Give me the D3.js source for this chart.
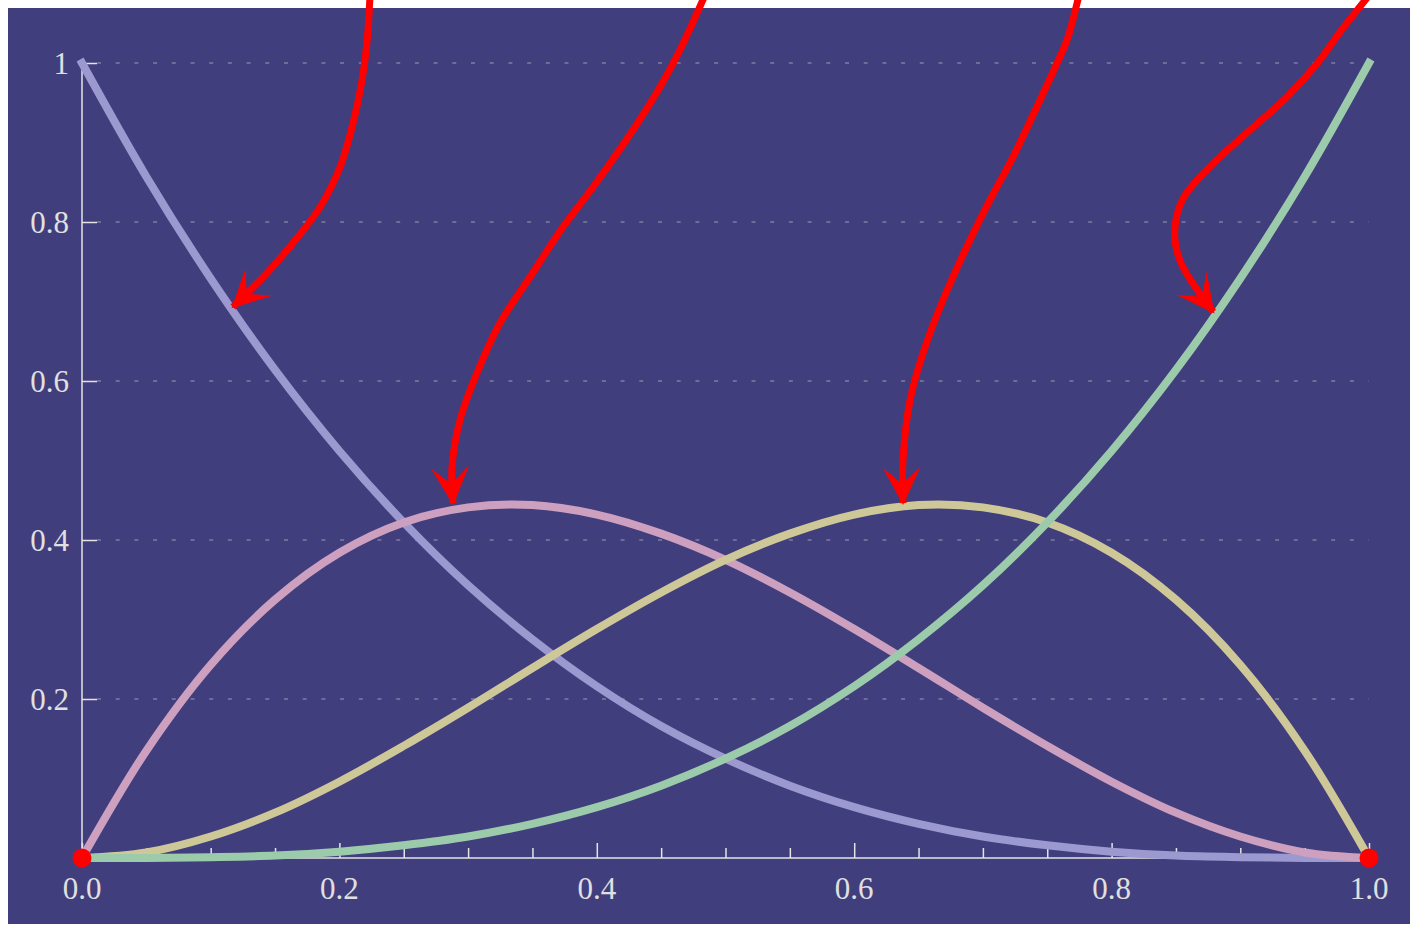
<!DOCTYPE html>
<html><head><meta charset="utf-8">
<script src="https://cdn.jsdelivr.net/npm/d3@7"></script>
<style>html,body{margin:0;padding:0;background:#fff;}svg{display:block;}</style>
</head><body>
<script>
// ---- data ----
const tValues = [0,0.05,0.1,0.15,0.2,0.25,0.3,0.35,0.4,0.45,0.5,0.55,0.6,0.65,0.7,0.75,0.8,0.85,0.9,0.95,1];
const seriesB0 = [1,0.857,0.729,0.614,0.512,0.422,0.343,0.275,0.216,0.166,0.125,0.091,0.064,0.043,0.027,0.016,0.008,0.003,0.001,0.0001,0];
const seriesB1 = [0,0.135,0.243,0.325,0.384,0.422,0.441,0.444,0.432,0.408,0.375,0.334,0.288,0.239,0.189,0.141,0.096,0.057,0.027,0.007,0];
const seriesB2 = [0,0.007,0.027,0.057,0.096,0.141,0.189,0.239,0.288,0.334,0.375,0.408,0.432,0.444,0.441,0.422,0.384,0.325,0.243,0.135,0];
const seriesB3 = [0,0.0001,0.001,0.003,0.008,0.016,0.027,0.043,0.064,0.091,0.125,0.166,0.216,0.275,0.343,0.422,0.512,0.614,0.729,0.857,1];
const seriesColors = ["#9b99cf","#cea0c0","#cec899","#9ccbab"];
const xTickLabels = ["0.0","0.2","0.4","0.6","0.8","1.0"];
const xTickValues = [0,0.2,0.4,0.6,0.8,1];
const yTickLabels = ["0.2","0.4","0.6","0.8","1"];
const yTickValues = [0.2,0.4,0.6,0.8,1];
const endpoints = [[0,0],[1,0]];
// annotation arrows (data coordinates, ending at the arrow tip)
const arrow1 = [[0.2238,1.0855],[0.2214,1.0252],[0.2176,0.9786],[0.2106,0.9245],[0.2005,0.8692],[0.1850,0.8189],[0.1639,0.7736],[0.1437,0.7358],[0.1173,0.6931]];
const arrow2 = [[0.4841,1.0855],[0.4646,1.0164],[0.4491,0.9698],[0.4281,0.9157],[0.3971,0.8440],[0.3737,0.7937],[0.3481,0.7308],[0.3248,0.6730],[0.3069,0.6101],[0.2937,0.5509],[0.2875,0.4918],[0.2883,0.4465]];
const arrow3 = [[0.7747,1.0855],[0.7653,1.0289],[0.7576,1.0],[0.7444,0.9535],[0.7234,0.8818],[0.7055,0.8277],[0.6900,0.7774],[0.6690,0.7019],[0.6535,0.6352],[0.6434,0.5761],[0.6379,0.5006],[0.6379,0.4465]];
const arrow4 = [[1.0,1.085],[0.977,1.038],[0.960,1.0],[0.936,0.957],[0.905,0.912],[0.876,0.869],[0.855,0.828],[0.849,0.786],[0.853,0.752],[0.863,0.723],[0.879,0.687]];

const W = 1410, H = 925;
const svg = d3.select("body").append("svg").attr("width", W).attr("height", H);
svg.append("rect").attr("x", 8).attr("y", 8).attr("width", W - 8).attr("height", H - 9).attr("fill", "#413e7d");

const x = d3.scaleLinear().domain([0,1]).range([82,1369]);
const y = d3.scaleLinear().domain([0,1]).range([858,63]);

const font = "'Times New Roman','Liberation Serif','DejaVu Serif',serif";
const textColor = "#e0e0e0";
const axisColor = "#e4e4e4";

// grid
svg.append("g").selectAll("line").data(yTickValues).join("line")
  .attr("x1", 97).attr("x2", x(1)).attr("y1", d => y(d)).attr("y2", d => y(d))
  .attr("stroke", "#9c9cb0").attr("stroke-width", 1.2).attr("stroke-dasharray", "4,14.7");

// y axis
const yAxis = d3.axisRight(y).tickValues(yTickValues).tickSize(15).tickFormat("");
const gy = svg.append("g").attr("transform", `translate(${x(0)},0)`).call(yAxis);
gy.select(".domain").attr("d", `M0,${y(0)}V${y(1)}`).attr("stroke", axisColor).attr("stroke-width", 1.5);
gy.selectAll(".tick line").attr("stroke", axisColor).attr("stroke-width", 1.5);
svg.append("g").selectAll("text").data(yTickValues).join("text")
  .attr("x", 69).attr("y", d => y(d)).attr("dy", "0.35em").attr("text-anchor", "end")
  .attr("font-family", font).attr("font-size", 31).attr("fill", textColor)
  .text((d, i) => yTickLabels[i]);

// x axis
const minorTicks = d3.range(0, 21).map(i => i / 20).filter(v => Math.round(v * 20) % 4 !== 0);
const gx = svg.append("g").attr("transform", `translate(0,${y(0)})`);
gx.call(d3.axisTop(x).tickValues(minorTicks).tickSize(10).tickFormat(""));
gx.call(g => g.selectAll(".tick line").attr("stroke", axisColor).attr("stroke-width", 1.5));
const gx2 = svg.append("g").attr("transform", `translate(0,${y(0)})`)
  .call(d3.axisTop(x).tickValues(xTickValues).tickSize(15).tickFormat(""));
gx2.selectAll(".tick line").attr("stroke", axisColor).attr("stroke-width", 1.5);
gx.select(".domain").remove();
gx2.select(".domain").attr("d", `M${x(0)},0H${x(1)}`).attr("stroke", axisColor).attr("stroke-width", 1.5);
svg.append("g").selectAll("text").data(xTickValues).join("text")
  .attr("x", d => x(d)).attr("y", 899).attr("text-anchor", "middle")
  .attr("font-family", font).attr("font-size", 31).attr("fill", textColor)
  .text((d, i) => xTickLabels[i]);

// curves
const line = d3.line().x(d => x(d[0])).y(d => y(d[1])).curve(d3.curveCatmullRom.alpha(0.5));
[seriesB0, seriesB1, seriesB2, seriesB3].forEach((s, i) => {
  svg.append("path").datum(tValues.map((t, j) => [t, s[j]]))
    .attr("d", line).attr("fill", "none").attr("stroke", seriesColors[i])
    .attr("stroke-width", 8).attr("stroke-linecap", "square").attr("stroke-linejoin", "round");
});

// endpoints
svg.append("g").selectAll("circle").data(endpoints).join("circle")
  .attr("cx", d => x(d[0])).attr("cy", d => y(d[1])).attr("r", 9.5).attr("fill", "#ff0000");

// arrows
svg.append("defs").append("marker").attr("id", "head")
  .attr("markerUnits", "userSpaceOnUse").attr("orient", "auto")
  .attr("viewBox", "-42 -22 48 44").attr("refX", 0).attr("refY", 0)
  .attr("markerWidth", 48).attr("markerHeight", 44)
  .append("path").attr("d", "M2,0 L-36,-19 L-19,0 L-36,19 Z").attr("fill", "#ff0000");
const aline = d3.line().x(d => x(d[0])).y(d => y(d[1])).curve(d3.curveCatmullRom.alpha(0.5));
[arrow1, arrow2, arrow3, arrow4].forEach(a => {
  svg.append("path").datum(a).attr("d", aline).attr("fill", "none")
    .attr("stroke", "#ff0000").attr("stroke-width", 7).attr("stroke-linecap", "butt")
    .attr("marker-end", "url(#head)");
});
</script>
</body></html>
